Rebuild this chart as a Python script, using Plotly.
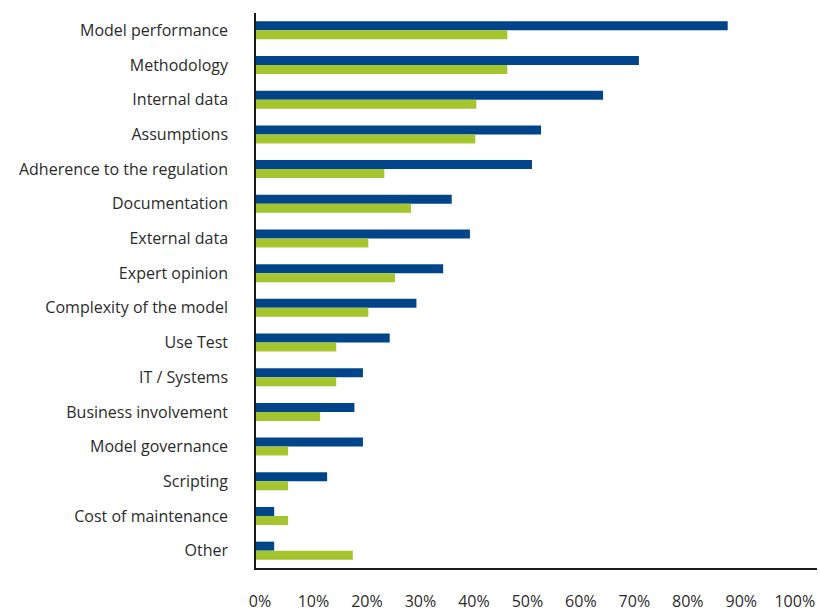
import plotly.graph_objects as go

categories = [
    "Model performance", "Methodology", "Internal data", "Assumptions",
    "Adherence to the regulation", "Documentation", "External data",
    "Expert opinion", "Complexity of the model", "Use Test", "IT / Systems",
    "Business involvement", "Model governance", "Scripting",
    "Cost of maintenance", "Other",
]
series_1 = [88.2, 71.6, 64.9, 53.3, 51.6, 36.6, 40.0, 35.0, 30.0, 25.0,
            20.0, 18.4, 20.0, 13.3, 3.4, 3.4]
series_2 = [47.0, 47.0, 41.2, 41.0, 24.0, 29.0, 21.0, 26.0, 21.0, 15.0,
            15.0, 12.0, 6.0, 6.0, 6.0, 18.1]
tick_values = [0, 10, 20, 30, 40, 50, 60, 70, 80, 90, 100]
tick_labels = [f"{v}%" for v in tick_values]

BLUE = "#00458A"
GREEN = "#A5C52F"
FONT = "Open Sans"

fig = go.Figure()
fig.add_trace(go.Bar(y=categories, x=series_1, orientation="h",
                     name="Series 1", marker=dict(color=BLUE, line=dict(width=0))))
fig.add_trace(go.Bar(y=categories, x=series_2, orientation="h",
                     name="Series 2", marker=dict(color=GREEN, line=dict(width=0))))

fig.update_layout(
    width=820, height=612,
    margin=dict(l=256, r=3, t=13, b=44),
    paper_bgcolor="white", plot_bgcolor="white",
    barmode="group", bargap=0.48, bargroupgap=0,
    showlegend=False,
    font=dict(family=FONT, size=16, color="#2b2b2b"),
)
fig.update_xaxes(
    range=[0, 104.9], tickvals=tick_values, ticktext=tick_labels,
    showgrid=False, zeroline=False, showline=True, linecolor="#1a1a1a",
    linewidth=1.5, ticks="", ticklabelstandoff=18, ticklabelshift=4,
    automargin=False,
    tickfont=dict(family=FONT, size=16, color="#2b2b2b"),
)
fig.update_yaxes(
    categoryorder="array", categoryarray=categories, autorange="reversed",
    showgrid=False, zeroline=False, showline=True, linecolor="#1a1a1a",
    linewidth=1.5, ticks="", ticklabelstandoff=23, automargin=False,
    tickfont=dict(family=FONT, size=16, color="#2b2b2b"),
)

fig.write_html("out.html")
